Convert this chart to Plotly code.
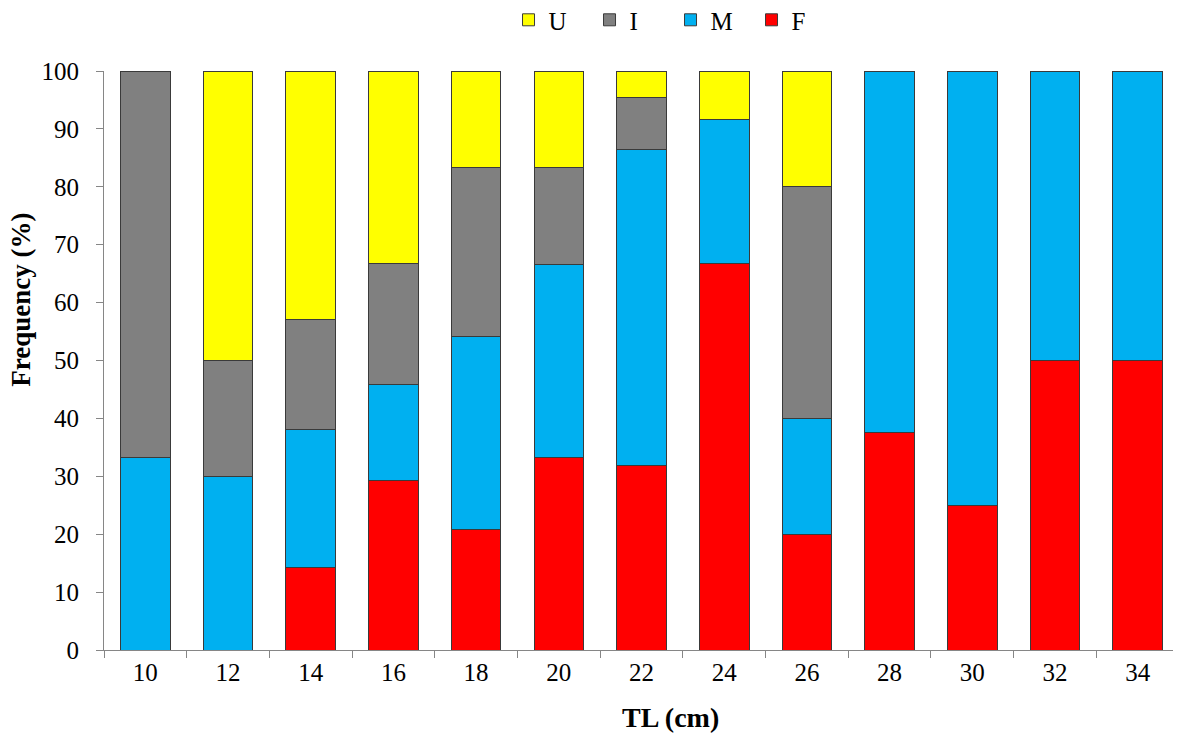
import plotly.graph_objects as go

# TL classes (cm)
tl_classes = ["10", "12", "14", "16", "18", "20", "22", "24", "26", "28", "30", "32", "34"]

# frequency (%) per class
freq_F = [None, None, 14.3, 29.2, 20.8, 33.3, 31.8, 66.7, 20.0, 37.5, 25.0, 50.0, 50.0]
freq_M = [33.3, 30.0, 23.8, 16.7, 33.3, 33.3, 54.6, 25.0, 20.0, 62.5, 75.0, 50.0, 50.0]
freq_I = [66.7, 20.0, 19.0, 20.8, 29.2, 16.7, 9.1, None, 40.0, None, None, None, None]
freq_U = [None, 50.0, 42.9, 33.3, 16.7, 16.7, 4.5, 8.3, 20.0, None, None, None, None]

series = [
    ("F", freq_F, "#FF0000"),
    ("M", freq_M, "#00B0F0"),
    ("I", freq_I, "#808080"),
    ("U", freq_U, "#FFFF00"),
]

FONT = "Times New Roman, Liberation Serif, Tinos, DejaVu Serif, serif"

fig = go.Figure()
for name, vals, color in series:
    fig.add_trace(go.Bar(
        x=tl_classes, y=vals, name=name,
        marker=dict(color=color, line=dict(color="#3a3a3a", width=1)),
    ))

# page body has an 8px margin, so the figure is a bit smaller and shifted
fig.update_layout(
    barmode="stack",
    bargap=0.4,
    width=1173, height=735,
    plot_bgcolor="white", paper_bgcolor="white",
    font=dict(family=FONT, size=25, color="black"),
    margin=dict(l=96, r=2, t=63, b=93, autoexpand=False),
    showlegend=True,
    legend=dict(
        orientation="h", traceorder="reversed",
        x=0.527, xanchor="center", y=1.088, yanchor="middle",
        font=dict(family=FONT, size=25), itemwidth=30,
        entrywidth=36, entrywidthmode="pixels",
    ),
)

fig.update_xaxes(
    type="category", showline=True, linecolor="#868686", linewidth=1,
    ticks="outside", ticklen=7, tickcolor="#868686", tickson="boundaries",
    showgrid=False, tickfont=dict(family=FONT, size=25),
)
fig.update_yaxes(
    range=[0, 100], dtick=10, showline=True, linecolor="#868686", linewidth=1,
    ticks="outside", ticklen=7, tickcolor="#868686", showgrid=False,
    zeroline=False, ticklabelstandoff=12, tickfont=dict(family=FONT, size=25),
)

# axis titles
fig.add_annotation(text="<b>TL (cm)</b>", xref="paper", yref="paper",
                   x=0.5274, y=-0.1174, xanchor="center", yanchor="middle",
                   showarrow=False, font=dict(family=FONT, size=28))
fig.add_annotation(text="<b>Frequency (%)</b>", xref="paper", yref="paper",
                   x=-0.0775, y=0.6045, xanchor="center", yanchor="middle",
                   textangle=-90, showarrow=False, font=dict(family=FONT, size=27))

fig.write_html("out.html")
